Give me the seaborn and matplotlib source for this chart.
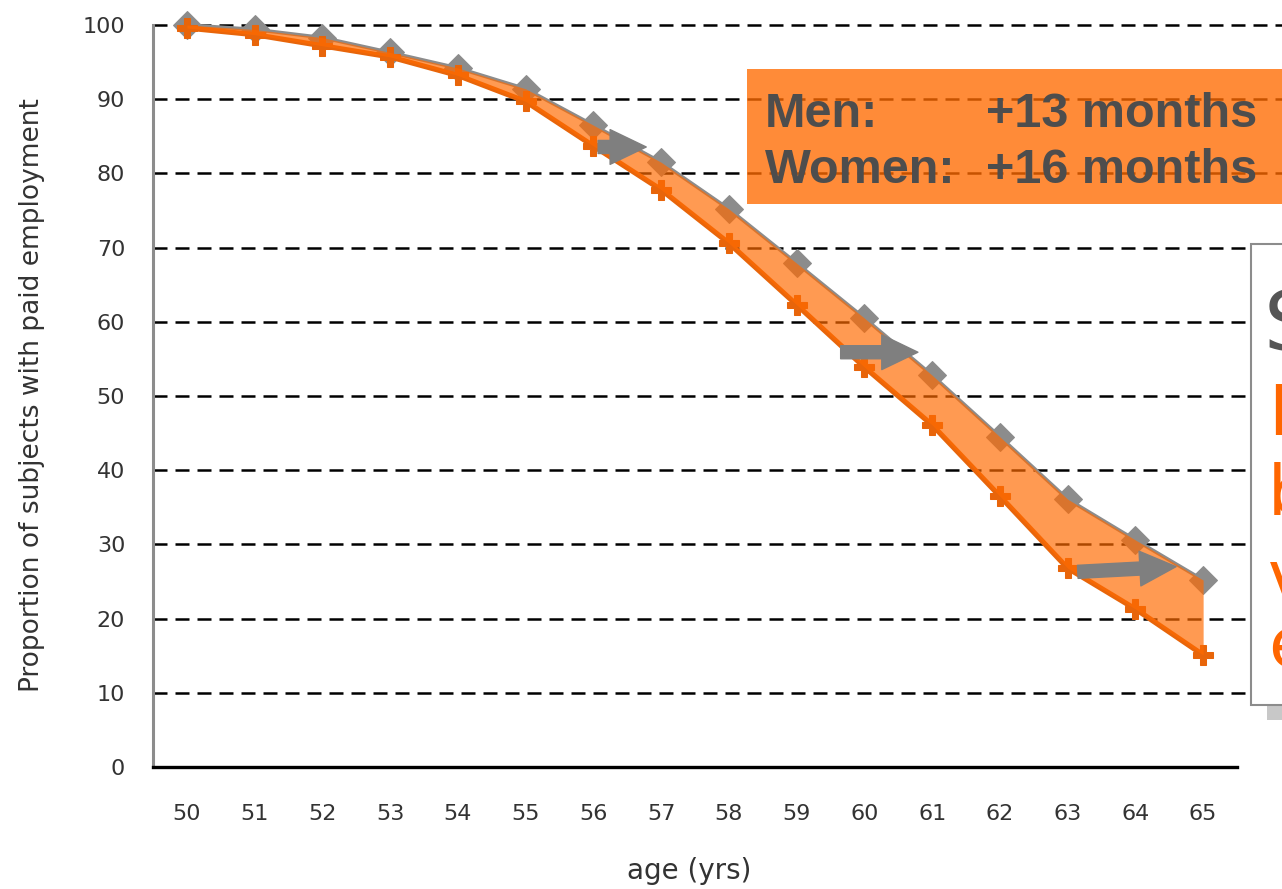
import matplotlib
matplotlib.use("Agg")
import matplotlib.pyplot as plt
import seaborn as sns
import numpy as np
from matplotlib.patches import Rectangle, FancyArrowPatch, ArrowStyle

# ---------------- data ----------------
ages = list(range(50, 66))
age_labels = [str(a) for a in ages]
series_grey = [100, 99.4, 98.3, 96.3, 94.2, 91.4, 86.5, 81.5, 75.2, 67.9,
               60.5, 52.8, 44.5, 36.1, 30.6, 25.2]
series_orange = [99.6, 98.7, 97.2, 95.7, 93.2, 89.7, 83.7, 77.8, 70.6, 62.3,
                 53.9, 46.1, 36.5, 26.8, 21.3, 15.1]
y_ticks = [0, 10, 20, 30, 40, 50, 60, 70, 80, 90, 100]
y_label = "Proportion of subjects with paid employment"
x_label = "age (yrs)"
box_rows = [("Men:", "+13 months"), ("Women:", "+16 months")]
side_grey_word = "Scenario"
side_orange_words = ["Increased", "by", "voluntary", "employment"]

# ---------------- style ----------------
sns.set_style("white")
plt.rcParams['font.family'] = ['DejaVu Sans']

W, H = 1282, 889
GREY = '#8C8C8C'
ORANGE_LINE = '#E8650A'
ORANGE = '#FF6A00'
TXT = '#333333'

fig = plt.figure(figsize=(W / 100, H / 100), dpi=100)
ax = fig.add_axes([153 / W, 1 - 767 / H, 1084 / W, 742 / H])

# dashed grid lines (extend to right edge of picture)
for yv in y_ticks[1:]:
    ax.axhline(yv, xmin=0, xmax=(W + 40 - 153) / 1084, color='black', lw=1.8,
               dashes=(5.6, 3.2), clip_on=False, zorder=1)

sns.lineplot(x=ages, y=series_grey, ax=ax, color=GREY, lw=2.6, marker='D',
             markersize=14, markeredgecolor=GREY, markerfacecolor=GREY,
             clip_on=False, zorder=3)
sns.lineplot(x=ages, y=series_orange, ax=ax, color=ORANGE_LINE, lw=3.8,
             marker='P', markersize=14, markeredgecolor=ORANGE_LINE,
             markerfacecolor=ORANGE_LINE, clip_on=False, zorder=3)
ax.fill_between(ages, series_orange, series_grey, color=ORANGE, alpha=0.68,
                lw=0, zorder=4)

# arrows
arrow_specs = [((56.07, 83.56), (56.78, 83.56)),
               ((59.65, 55.9), (60.79, 55.9)),
               ((63.15, 26.3), (64.60, 27.0))]
for a, b in arrow_specs:
    ax.add_patch(FancyArrowPatch(a, b,
                                 arrowstyle=ArrowStyle.Simple(head_length=26, head_width=25, tail_width=9.4),
                                 mutation_scale=1, color='#7F7F7F', shrinkA=0, shrinkB=0,
                                 zorder=7, clip_on=False))

ax.set_xlim(49.5, 65.5)
ax.set_ylim(0, 100)
ax.set_yticks(y_ticks)
ax.set_xticks(ages)
ax.set_xticklabels(age_labels)
ax.set_xticks(np.arange(50.5, 66.0, 1.0), minor=True)
ax.tick_params(axis='x', which='major', length=0, pad=27, labelsize=16, labelcolor=TXT)
ax.tick_params(axis='x', which='minor', length=7, width=1.5, color='#9A9A9A', direction='out')
ax.tick_params(axis='y', length=0, pad=20, labelsize=16, labelcolor=TXT)

for s in ['top', 'right']:
    ax.spines[s].set_visible(False)
ax.spines['left'].set_color(GREY)
ax.spines['left'].set_linewidth(2.2)
ax.spines['bottom'].set_color('black')
ax.spines['bottom'].set_linewidth(2.4)
ax.grid(False)

ax.set_xlabel(x_label, fontsize=20, color=TXT)
ax.xaxis.set_label_coords(0.495, -0.121)
ax.set_ylabel(y_label, fontsize=19, color=TXT)
ax.yaxis.set_label_coords(-0.0996, 0.501)

# orange summary box
fig.add_artist(Rectangle((747 / W, 1 - 204 / H), (W - 747 + 40) / W, 135 / H,
                         transform=fig.transFigure, facecolor=ORANGE, alpha=0.78,
                         edgecolor='none', zorder=5))
for (lab, val), base in zip(box_rows, [127, 183]):
    fig.text(765 / W, 1 - base / H, lab, fontsize=35, fontweight='bold',
             family='Liberation Sans', color='#4D4D4D', va='baseline', zorder=6)
    fig.text(986 / W, 1 - base / H, val, fontsize=35, fontweight='bold',
             family='Liberation Sans', color='#4D4D4D', va='baseline', zorder=6)

# right-side box (cut by picture edge, as in the reference)
fig.add_artist(Rectangle((1267 / W, 1 - 720 / H), 80 / W, 461 / H,
                         transform=fig.transFigure, facecolor='#C8C8C8',
                         edgecolor='none', zorder=5))
fig.add_artist(Rectangle((1251 / W, 1 - 705 / H), 80 / W, 461 / H,
                         transform=fig.transFigure, facecolor='white',
                         edgecolor=GREY, lw=1.5, zorder=5))
fig.text(1264 / W, 1 - 350 / H, side_grey_word, fontsize=59, color='#555555',
         va='baseline', zorder=6)
for word, base in zip(side_orange_words, [435, 515, 600, 667]):
    fig.text(1268 / W, 1 - base / H, word, fontsize=50, color='#FF6600',
             va='baseline', zorder=6)

fig.savefig("out.png", dpi=100)
